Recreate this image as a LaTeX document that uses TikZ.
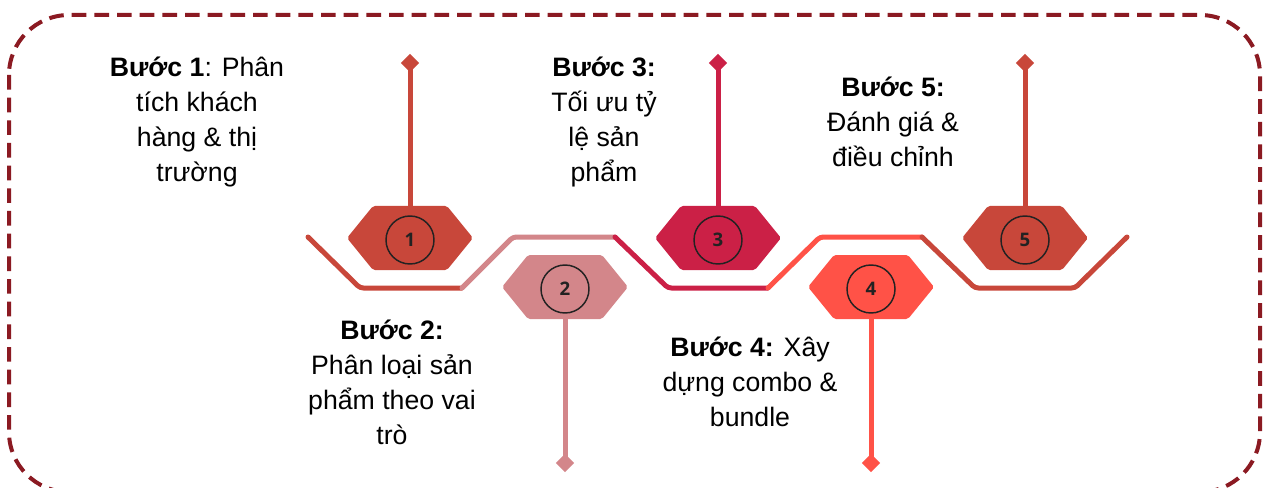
\documentclass[tikz,border=0pt]{standalone}
\usepackage{fontspec}
\setmainfont{Liberation Sans}
\newfontfamily\numfont{Open Sans}
\usetikzlibrary{shapes.geometric}

\definecolor{frameRed}{HTML}{8B1A22}
\definecolor{stepA}{HTML}{C8473A}
\definecolor{stepB}{HTML}{D3868A}
\definecolor{stepC}{HTML}{CB2046}
\definecolor{stepD}{HTML}{FF5247}
\definecolor{ink}{HTML}{222222}

\tikzset{
  frame/.style={draw=frameRed, line width=3pt, dash pattern=on 11pt off 6pt, rounded corners=45pt},
  track/.style={line width=3.75pt, line cap=round, line join=round, rounded corners=2.5pt},
  stem/.style={line width=3.75pt},
  pin/.style={diamond, inner sep=0pt, minimum size=14pt},
  numcircle/.style={circle, draw=ink, line width=1.1pt, minimum size=36pt, inner sep=0pt,
    font=\numfont\bfseries\fontsize{14}{16}\selectfont, text=ink},
  label/.style={align=center, font=\fontsize{20}{26.2}\selectfont, text=black}
}

\begin{document}
\begin{tikzpicture}[x=0.75pt, y=-0.75pt]
\useasboundingbox (0,0) rectangle (1269,488);
\clip (0,0) rectangle (1269,488);

% dashed outer frame
\draw[frame] (9,15) rectangle (1260,492);

% zig-zag track
\draw[track, stepA] (308,237) -- (360,288) -- (462,288);
\draw[track, stepB] (462,288) -- (513,237) -- (615,237);
\draw[track, stepC] (615,237) -- (668,288) -- (768,288);
\draw[track, stepD] (768,288) -- (820,237) -- (922,237);
\draw[track, stepA] (922,237) -- (975,288) -- (1075,288) -- (1127,237);

% hexagons, numbered circles, stems and diamond ends
\foreach \x/\y/\c/\n/\d in {410/238/stepA/1/-1, 565/287/stepB/2/1, 718/238/stepC/3/-1, 871/287/stepD/4/1, 1025/238/stepA/5/-1}{
  \fill[\c, rounded corners=1.5pt] ({\x-63},\y) -- ({\x-37},{\y-32}) -- ({\x+37},{\y-32})
     -- ({\x+63},\y) -- ({\x+37},{\y+32}) -- ({\x-37},{\y+32}) -- cycle;
  \coordinate (h\n) at (\x,{\y+\d*32});
  \node[numcircle] (n\n) at (\x,{\y+2}) {\n};
  \node[pin, fill=\c] (d\n) at (\x,{263+\d*200}) {};
  \draw[stem, \c] (d\n.center) -- (h\n);
}

% step descriptions
\node[label] (t1) at (197,122) {\textbf{Bước 1}: Phân\\tích khách\\hàng \& thị\\trường};
\node[label] (t2) at (392,382) {\textbf{Bước 2:}\\Phân loại sản\\phẩm theo vai\\trò};
\node[label] (t3) at (604,122) {\textbf{Bước 3:}\\Tối ưu tỷ\\lệ sản\\phẩm};
\node[label] (t4) at (750,382) {\textbf{Bước 4:} Xây\\dựng combo \&\\bundle};
\node[label] (t5) at (893,122) {\textbf{Bước 5:}\\Đánh giá \&\\điều chỉnh};
\end{tikzpicture}
\end{document}
